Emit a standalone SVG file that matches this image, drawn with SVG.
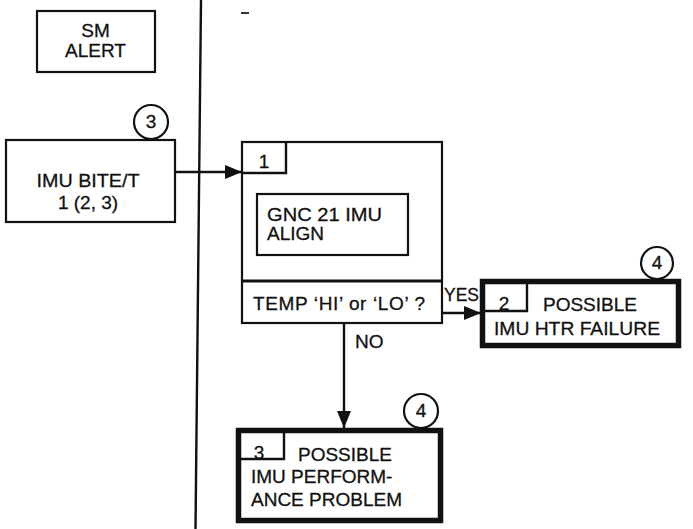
<svg xmlns="http://www.w3.org/2000/svg" width="693" height="529" viewBox="0 0 693 529">
<defs>
<style>
.t{font-family:"Liberation Sans",Arial,sans-serif;font-size:19px;fill:#111;stroke:#111;stroke-width:0.3}
.b{fill:#fff;stroke:#111;stroke-width:2.2}
.h{fill:#fff;stroke:#111;stroke-width:5.5}
.c{fill:#fff;stroke:#111;stroke-width:2.2}
.l{fill:none;stroke:#111;stroke-width:2.4}
</style>
<marker id="ah" markerUnits="userSpaceOnUse" markerWidth="18" markerHeight="16" refX="17" refY="8" orient="auto">
<path d="M0,1 L17,8 L0,15 Z" fill="#111"/>
</marker>
</defs>
<rect width="693" height="529" fill="#fff"/>
<g id="divider">
<line x1="201" y1="0" x2="195.5" y2="529" stroke="#111" stroke-width="2.4"/>
<rect x="241" y="12" width="8" height="2" fill="#333"/>
</g>
<g id="connectors">
<line class="l" x1="175" y1="172" x2="242" y2="172" marker-end="url(#ah)"/>
<line class="l" x1="442" y1="313" x2="481" y2="313" marker-end="url(#ah)"/>
<line class="l" x1="344" y1="323" x2="344" y2="428" marker-end="url(#ah)"/>
<text class="t" x="444" y="301" textLength="35" lengthAdjust="spacingAndGlyphs">YES</text>
<text class="t" x="355" y="348">NO</text>
</g>
<g id="sm-alert">
<rect class="b" x="37" y="11" width="118" height="61"/>
<text class="t" x="95.5" y="37" text-anchor="middle">SM</text>
<text class="t" x="95.5" y="57" text-anchor="middle">ALERT</text>
</g>
<g id="imu-bite">
<rect class="b" x="6" y="140" width="169" height="82"/>
<text class="t" x="88" y="187" text-anchor="middle" textLength="103" lengthAdjust="spacingAndGlyphs">IMU BITE/T</text>
<text class="t" x="88" y="209" text-anchor="middle">1 (2, 3)</text>
<circle class="c" cx="151" cy="122" r="17"/>
<text class="t" x="151" y="128" text-anchor="middle" font-size="17">3</text>
</g>
<g id="step1">
<rect class="b" x="242" y="142" width="200" height="181"/>
<line x1="242" y1="281" x2="442" y2="281" stroke="#111" stroke-width="3"/>
<path class="l" d="M242,173 H286 V142"/>
<text class="t" x="264" y="168" text-anchor="middle" font-size="17">1</text>
<rect class="b" x="257" y="194" width="151" height="61"/>
<text class="t" x="267" y="221" textLength="115" lengthAdjust="spacingAndGlyphs">GNC 21 IMU</text>
<text class="t" x="267" y="240">ALIGN</text>
<text class="t" x="253" y="310" textLength="172" lengthAdjust="spacing">TEMP ‘HI’ or ‘LO’ ?</text>
</g>
<g id="step2">
<rect class="h" x="482.5" y="281.5" width="196" height="64"/>
<path class="l" d="M485,311 H527 V284"/>
<text class="t" x="504" y="310" text-anchor="middle">2</text>
<text class="t" x="543" y="311">POSSIBLE</text>
<text class="t" x="494" y="335" textLength="166" lengthAdjust="spacingAndGlyphs">IMU HTR FAILURE</text>
<circle class="c" cx="657" cy="263" r="16"/>
<text class="t" x="657" y="269" text-anchor="middle" font-size="17">4</text>
</g>
<g id="step3">
<rect class="h" x="238.5" y="430.5" width="202" height="90"/>
<path class="l" d="M241,459 H284 V433"/>
<text class="t" x="259" y="459" text-anchor="middle">3</text>
<text class="t" x="298" y="461">POSSIBLE</text>
<text class="t" x="251" y="483">IMU PERFORM-</text>
<text class="t" x="251" y="506">ANCE PROBLEM</text>
<circle class="c" cx="421" cy="411" r="17"/>
<text class="t" x="421" y="417" text-anchor="middle" font-size="17">4</text>
</g>
</svg>
